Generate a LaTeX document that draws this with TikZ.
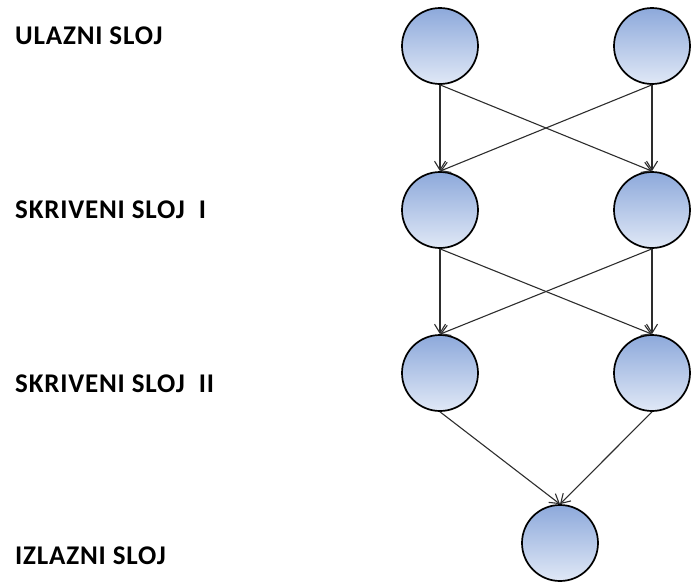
\documentclass[tikz,border=0pt]{standalone}
\usepackage{fontspec}
\setmainfont{Carlito}
\newfontfamily\layerfont[LetterSpace=3]{Carlito}
\usetikzlibrary{arrows.meta}
\definecolor{cellTop}{RGB}{141,169,219}
\definecolor{cellBottom}{RGB}{224,232,246}
\definecolor{wire}{RGB}{45,45,45}
\newcommand{\gapII}{\hspace{14pt}}
\begin{document}
\begin{tikzpicture}[x=1pt,y=-1pt,
  neuron/.style={circle, draw=black, line width=1.7pt, minimum size=76pt,
    inner sep=0pt, top color=cellTop, bottom color=cellBottom},
  link/.style={draw=wire, line width=1.1pt,
    -{Straight Barb[length=9pt,width=11pt,line width=1.1pt]}},
  layer/.style={anchor=west, inner sep=0pt,
    font=\layerfont\bfseries\fontsize{27}{30}\selectfont}]
\useasboundingbox (0,0) rectangle (691,587);

% layer captions
\node[layer] (l1) at (15,35.5) {ULAZNI SLOJ};
\node[layer] (l2) at (15,210)  {SKRIVENI SLOJ\gapII I};
\node[layer] (l3) at (15,384)  {SKRIVENI SLOJ\gapII II};
\node[layer] (l4) at (15,556)  {IZLAZNI SLOJ};

% neurons
\node[neuron] (i1) at (440,46)  {};
\node[neuron] (i2) at (652,46)  {};
\node[neuron] (h1) at (440,210) {};
\node[neuron] (h2) at (652,210) {};
\node[neuron] (g1) at (440,373) {};
\node[neuron] (g2) at (652,373) {};
\node[neuron] (o)  at (560,543) {};

% connections
\foreach \a/\b in {i1/h1,i1/h2,i2/h1,i2/h2,h1/g1,h1/g2,h2/g1,h2/g2,g1/o,g2/o}
  \draw[link] (\a.south) -- (\b.north);
\end{tikzpicture}
\end{document}
